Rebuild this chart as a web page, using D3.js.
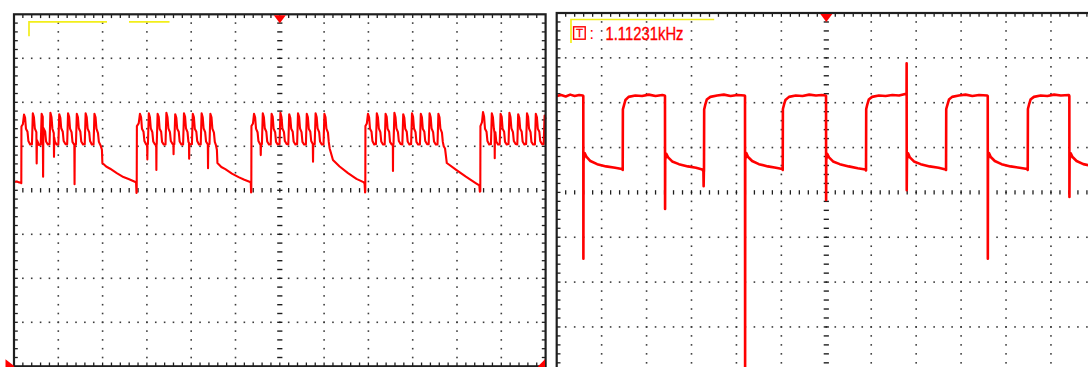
<!DOCTYPE html>
<html><head><meta charset="utf-8">
<script src="https://cdn.jsdelivr.net/npm/d3@7"></script>
<style>html,body{margin:0;padding:0;background:#fff;overflow:hidden}svg{display:block}</style>
</head><body>
<svg id="c" width="1088" height="367"></svg>
<script>
// Time in divisions (0..12), voltage in divisions (-4..4)
const leftTrace = [
[0.00,0.19],[0.06,0.20],[0.12,0.18],[0.16,0.17],
[0.165,0.16],[0.168,1.45],[0.20,1.50],[0.226,1.72],[0.25,1.65],[0.27,1.40],[0.305,1.33],[0.325,1.12],[0.365,1.04],
[0.405,1.05],[0.425,1.75],[0.45,1.66],[0.47,1.41],[0.505,1.32],[0.512,0.61],[0.518,1.14],[0.565,1.03],
[0.604,1.04],[0.624,1.74],[0.649,1.67],[0.657,0.31],[0.663,1.42],[0.704,1.33],[0.724,1.11],[0.764,1.04],
[0.802,1.05],[0.822,1.76],[0.847,1.66],[0.867,1.40],[0.898,1.30],[0.903,0.76],[0.908,1.20],[0.922,1.11],[0.962,1.04],
[1.001,1.04],[1.021,1.73],[1.046,1.65],[1.066,1.41],[1.101,1.33],[1.121,1.12],[1.161,1.05],
[1.200,1.05],[1.220,1.75],[1.245,1.67],[1.265,1.40],[1.300,1.32],[1.320,1.10],[1.362,1.03],[1.367,0.14],[1.372,1.04],
[1.398,1.04],[1.418,1.74],[1.443,1.66],[1.463,1.41],[1.498,1.33],[1.518,1.11],[1.558,1.04],
[1.597,1.05],[1.617,1.75],[1.642,1.66],[1.662,1.40],[1.697,1.32],[1.717,1.12],[1.757,1.04],
[1.796,1.04],[1.816,1.74],[1.841,1.66],[1.861,1.40],[1.896,1.30],[1.916,1.10],[1.955,1.02],[1.985,0.92],
[1.995,0.62],[2.08,0.54],[2.17,0.49],[2.32,0.39],[2.47,0.30],[2.60,0.25],[2.74,0.19],[2.755,0.18],[2.765,-0.06],
[2.770,-0.04],[2.774,1.46],[2.815,1.52],[2.844,1.74],[2.869,1.66],[2.889,1.40],[2.924,1.33],[2.944,1.12],[2.984,1.04],
[3.005,1.04],[3.010,0.70],[3.015,1.05],
[3.023,1.05],[3.043,1.75],[3.068,1.66],[3.088,1.41],[3.123,1.32],[3.143,1.11],[3.183,1.04],
[3.210,1.04],[3.214,0.46],[3.218,1.04],
[3.222,1.05],[3.242,1.74],[3.267,1.67],[3.287,1.40],[3.322,1.33],[3.342,1.10],[3.382,1.04],
[3.420,1.04],[3.440,1.76],[3.465,1.66],[3.485,1.41],[3.520,1.32],[3.540,1.12],[3.580,1.05],
[3.598,1.05],[3.602,0.82],[3.606,1.05],
[3.619,1.05],[3.639,1.73],[3.664,1.65],[3.684,1.40],[3.719,1.33],[3.739,1.11],[3.779,1.04],
[3.817,1.04],[3.837,1.75],[3.862,1.67],[3.882,1.41],[3.917,1.32],[3.937,1.10],[3.950,1.08],[3.954,0.72],[3.958,1.06],[3.977,1.04],
[4.016,1.05],[4.036,1.74],[4.061,1.66],[4.081,1.40],[4.116,1.33],[4.136,1.12],[4.176,1.04],
[4.215,1.04],[4.235,1.75],[4.260,1.66],[4.280,1.41],[4.315,1.32],[4.335,1.11],[4.375,1.04],[4.380,0.50],[4.385,1.04],
[4.413,1.05],[4.433,1.74],[4.458,1.66],[4.478,1.40],[4.513,1.31],[4.533,1.10],[4.560,1.02],[4.580,0.92],
[4.592,0.62],[4.68,0.53],[4.77,0.48],[4.92,0.38],[5.07,0.30],[5.20,0.24],[5.33,0.19],[5.345,0.17],[5.352,-0.05],
[5.357,-0.03],[5.360,1.46],[5.395,1.52],[5.418,1.74],[5.443,1.66],[5.463,1.40],[5.498,1.32],[5.518,1.12],[5.558,1.04],
[5.565,1.04],[5.570,0.80],[5.575,1.04],
[5.596,1.05],[5.616,1.75],[5.641,1.66],[5.661,1.41],[5.696,1.33],[5.716,1.11],[5.756,1.04],
[5.795,1.04],[5.815,1.74],[5.840,1.67],[5.860,1.40],[5.895,1.32],[5.915,1.10],[5.955,1.04],
[5.994,1.05],[6.014,1.76],[6.039,1.66],[6.059,1.41],[6.094,1.32],[6.114,1.12],[6.154,1.05],
[6.192,1.04],[6.212,1.73],[6.237,1.65],[6.257,1.40],[6.292,1.33],[6.312,1.11],[6.352,1.04],
[6.391,1.05],[6.411,1.75],[6.436,1.67],[6.456,1.41],[6.491,1.32],[6.511,1.10],[6.551,1.04],
[6.589,1.04],[6.609,1.74],[6.634,1.66],[6.654,1.40],[6.689,1.33],[6.709,1.12],[6.745,1.05],[6.750,0.65],[6.755,1.05],
[6.788,1.05],[6.808,1.75],[6.833,1.66],[6.853,1.41],[6.888,1.32],[6.908,1.11],[6.948,1.04],
[6.987,1.04],[7.007,1.74],[7.032,1.66],[7.052,1.40],[7.087,1.31],[7.105,1.10],[7.126,0.95],
[7.200,0.69],[7.35,0.54],[7.54,0.39],[7.73,0.26],[7.90,0.18],[7.915,0.14],[7.925,-0.05],
[7.930,-0.03],[7.933,1.46],[7.965,1.52],[7.991,1.74],[8.016,1.66],[8.036,1.40],[8.071,1.33],[8.091,1.12],[8.131,1.04],
[8.170,1.05],[8.190,1.75],[8.215,1.66],[8.235,1.41],[8.270,1.32],[8.290,1.11],[8.330,1.04],
[8.368,1.04],[8.388,1.74],[8.413,1.67],[8.433,1.40],[8.468,1.33],[8.488,1.10],[8.528,1.04],
[8.552,1.05],[8.555,0.44],[8.558,1.05],
[8.567,1.05],[8.587,1.76],[8.612,1.66],[8.632,1.41],[8.667,1.32],[8.687,1.12],[8.727,1.05],
[8.766,1.04],[8.786,1.73],[8.811,1.65],[8.831,1.40],[8.866,1.33],[8.886,1.11],[8.926,1.04],
[8.964,1.05],[8.984,1.75],[9.009,1.67],[9.029,1.41],[9.064,1.32],[9.084,1.10],[9.124,1.04],
[9.163,1.04],[9.183,1.74],[9.208,1.66],[9.228,1.40],[9.263,1.33],[9.283,1.12],[9.323,1.05],
[9.361,1.05],[9.381,1.75],[9.406,1.66],[9.426,1.41],[9.461,1.32],[9.481,1.11],[9.521,1.04],
[9.560,1.04],[9.580,1.74],[9.605,1.66],[9.625,1.40],[9.660,1.31],[9.680,1.10],[9.700,1.00],[9.730,0.95],
[9.770,0.62],[9.99,0.46],[10.20,0.31],[10.43,0.16],[10.505,0.11],[10.515,-0.03],
[10.526,-0.02],[10.529,1.46],[10.565,1.55],[10.587,1.78],[10.612,1.67],[10.632,1.40],[10.667,1.33],[10.687,1.12],[10.727,1.04],
[10.766,1.05],[10.786,1.75],[10.811,1.66],[10.831,1.41],[10.848,1.30],[10.852,0.73],[10.856,1.28],[10.866,1.32],[10.886,1.11],[10.926,1.04],
[10.964,1.04],[10.984,1.74],[11.009,1.67],[11.029,1.40],[11.064,1.33],[11.084,1.10],[11.124,1.04],
[11.163,1.05],[11.183,1.76],[11.208,1.66],[11.228,1.41],[11.263,1.32],[11.283,1.12],[11.323,1.05],
[11.361,1.04],[11.381,1.73],[11.406,1.65],[11.426,1.40],[11.461,1.33],[11.481,1.11],[11.521,1.04],
[11.560,1.05],[11.580,1.75],[11.605,1.67],[11.625,1.41],[11.660,1.32],[11.680,1.10],[11.720,1.04],
[11.759,1.04],[11.779,1.74],[11.804,1.66],[11.824,1.40],[11.859,1.33],[11.879,1.12],[11.919,1.05],
[11.957,1.05],[11.977,1.70],[12.0,1.62]
];

const rightTrace = [
[0.00,2.15],[0.10,2.17],[0.20,2.14],[0.30,2.18],[0.40,2.15],[0.50,2.17],[0.58,2.16],
[0.592,2.15],[0.594,-1.48],[0.597,0.70],[0.62,0.88],[0.66,0.80],[0.75,0.70],[0.90,0.63],[1.10,0.58],[1.30,0.55],[1.45,0.52],
[1.469,0.50],[1.473,1.85],[1.50,1.95],[1.53,2.06],[1.60,2.13],[1.75,2.16],[1.90,2.15],[2.05,2.18],[2.20,2.15],[2.35,2.17],[2.40,2.16],
[2.410,2.15],[2.412,-0.37],[2.415,0.72],[2.44,0.86],[2.48,0.78],[2.57,0.69],[2.72,0.63],[2.92,0.58],[3.10,0.55],[3.24,0.51],[3.265,0.47],[3.270,0.14],[3.275,0.45],
[3.278,0.48],[3.282,1.85],[3.31,1.97],[3.34,2.07],[3.42,2.13],[3.57,2.16],[3.72,2.18],[3.87,2.15],[4.02,2.17],[4.18,2.16],
[4.191,2.15],[4.193,-4.0],[4.196,0.72],[4.22,0.88],[4.26,0.79],[4.35,0.70],[4.50,0.63],[4.70,0.58],[4.88,0.55],[5.02,0.52],
[5.030,0.50],[5.034,1.86],[5.06,1.96],[5.09,2.06],[5.17,2.13],[5.32,2.16],[5.47,2.15],[5.62,2.18],[5.77,2.16],[5.90,2.17],[5.985,2.16],
[5.994,2.15],[5.996,-0.17],[5.999,0.72],[6.02,0.86],[6.06,0.78],[6.15,0.69],[6.30,0.63],[6.50,0.58],[6.70,0.54],[6.87,0.51],
[6.884,0.49],[6.888,1.86],[6.915,1.97],[6.945,2.07],[7.02,2.13],[7.17,2.16],[7.32,2.15],[7.47,2.17],[7.62,2.16],[7.78,2.20],
[7.786,2.17],[7.788,2.88],[7.790,0.05],[7.795,0.72],[7.82,0.87],[7.86,0.78],[7.95,0.69],[8.10,0.63],[8.30,0.58],[8.50,0.55],[8.655,0.51],
[8.665,0.50],[8.669,1.86],[8.70,1.97],[8.73,2.07],[8.80,2.13],[8.95,2.16],[9.10,2.18],[9.25,2.15],[9.40,2.17],[9.58,2.16],
[9.593,2.15],[9.595,-1.48],[9.598,0.72],[9.62,0.88],[9.66,0.79],[9.75,0.70],[9.90,0.63],[10.10,0.58],[10.30,0.55],[10.47,0.52],
[10.483,0.50],[10.487,1.86],[10.515,1.97],[10.545,2.07],[10.62,2.13],[10.77,2.16],[10.92,2.15],[11.07,2.18],[11.22,2.16],[11.40,2.17],
[11.409,2.15],[11.411,-0.10],[11.414,0.72],[11.44,0.87],[11.48,0.79],[11.57,0.70],[11.72,0.63],[11.92,0.59],[12.0,0.58]
];

const freqLabel = "1.11231kHz";
const triggerLabel = "T";

const svg = d3.select("#c");
const RED = "#ff0000", YEL = "#f2ee1a", INK = "#1e1e1e", DOT = "#3c3c3c";

const panels = [
  {x: d3.scaleLinear().domain([0,12]).range([14, 545.6]),
   y: d3.scaleLinear().domain([-4,4]).range([366.3, 14.3]), data: leftTrace, sw: 2.1},
  {x: d3.scaleLinear().domain([0,12]).range([556.7, 1095.9]),
   y: d3.scaleLinear().domain([-4,4]).range([371.8, 13.0]), data: rightTrace, sw: 2.6}
];

panels.forEach((p, idx) => {
  const g = svg.append("g");
  const x = p.x, y = p.y;
  const minorT = d3.range(1, 60).map(k => k * 0.2);
  const minorV = d3.range(1, 40).map(k => -4 + k * 0.2);
  // dotted grid
  const dots = [];
  [1,2,3,4,5,7,8,9,10,11].forEach(i => minorV.forEach(v => dots.push([i, v])));
  [-3,-2,-1,1,2,3].forEach(j => minorT.forEach(t => dots.push([t, j])));
  g.append("g").selectAll("rect").data(dots).join("rect")
    .attr("x", d => x(d[0]) - 0.8).attr("y", d => y(d[1]) - 0.8)
    .attr("width", 1.6).attr("height", 1.6).attr("fill", DOT);
  // center axes
  g.append("g").selectAll("line").data(minorT).join("line")
    .attr("x1", t => x(t)).attr("x2", t => x(t))
    .attr("y1", y(0) - 2.2).attr("y2", y(0) + 2.2)
    .attr("stroke", INK).attr("stroke-width", 1.3);
  g.append("g").selectAll("line").data(minorV).join("line")
    .attr("x1", x(6) - 2.6).attr("x2", x(6) + 2.6)
    .attr("y1", v => y(v)).attr("y2", v => y(v))
    .attr("stroke", INK).attr("stroke-width", 1.4);
  // border ticks
  const bt = g.append("g").attr("stroke", INK).attr("stroke-width", 1.3);
  minorT.forEach(t => {
    bt.append("line").attr("x1", x(t)).attr("x2", x(t)).attr("y1", y(4)).attr("y2", y(4) + 3.8);
    bt.append("line").attr("x1", x(t)).attr("x2", x(t)).attr("y1", y(-4)).attr("y2", y(-4) - 3.8);
  });
  minorV.forEach(v => {
    bt.append("line").attr("x1", x(0)).attr("x2", x(0) + 3.8).attr("y1", y(v)).attr("y2", y(v));
    bt.append("line").attr("x1", x(12)).attr("x2", x(12) - 3.8).attr("y1", y(v)).attr("y2", y(v));
  });
  // trace
  const line = d3.line().x(d => x(d[0])).y(d => y(d[1]));
  g.append("path").datum(p.data).attr("d", line)
    .attr("fill", "none").attr("stroke", RED).attr("stroke-width", p.sw)
    .attr("stroke-linejoin", "round");
  // border
  g.append("rect").attr("x", x(0)).attr("y", y(4))
    .attr("width", x(12) - x(0)).attr("height", y(-4) - y(4))
    .attr("fill", "none").attr("stroke", INK).attr("stroke-width", 2.2);
  // trigger marker
  const cx = x(6), ty = y(4);
  g.append("path").attr("d", `M${cx-6},${ty+1} L${cx+6},${ty+1} L${cx},${ty+9} Z`).attr("fill", RED);
});

// Left panel decorations
const L = panels[0];
svg.append("path").attr("d", `M${L.x(0)+15},${L.y(4)+22} V${L.y(4)+7.5} H${L.x(0)+93}`)
  .attr("fill","none").attr("stroke", YEL).attr("stroke-width", 1.7);
svg.append("line").attr("x1", L.x(0)+115).attr("x2", L.x(0)+155.5)
  .attr("y1", L.y(4)+7.5).attr("y2", L.y(4)+7.5).attr("stroke", YEL).attr("stroke-width", 1.7);
svg.append("path").attr("d", `M5.5,${L.y(-4)-7} L14.5,${L.y(-4)} L5.5,${L.y(-4)+7} Z`).attr("fill", RED);
svg.append("path").attr("d", `M545,${L.y(-4)-7} L538,${L.y(-4)} L545,${L.y(-4)+7} Z`).attr("fill", RED);

// Right panel decorations
const R = panels[1];
svg.append("path").attr("d", `M${R.x(0)+14.3},${R.y(4)+30} V${R.y(4)+6.5} H${R.x(0)+157.5}`)
  .attr("fill","none").attr("stroke", YEL).attr("stroke-width", 1.7);
svg.append("rect").attr("x", 573.6).attr("y", 26.8).attr("width", 11.6).attr("height", 12.4)
  .attr("fill","none").attr("stroke", RED).attr("stroke-width", 1.4);
svg.append("text").attr("x", 579.4).attr("y", 37).attr("text-anchor","middle")
  .attr("font-family","Liberation Sans, Arial, sans-serif").attr("font-size", 11.5)
  .attr("fill", RED).attr("stroke", RED).attr("stroke-width", 0.3).text(triggerLabel);
svg.append("text").attr("x", 589.5).attr("y", 39)
  .attr("font-family","Liberation Sans, Arial, sans-serif").attr("font-size", 16)
  .attr("fill", RED).text(":");
svg.append("text").attr("x", 605.5).attr("y", 39.5)
  .attr("font-family","Liberation Sans Narrow, Liberation Sans, Arial, sans-serif").attr("font-size", 17.5)
  .attr("textLength", 78).attr("lengthAdjust","spacingAndGlyphs")
  .attr("fill", RED).attr("stroke", RED).attr("stroke-width", 0.35).text(freqLabel);
</script>
</body></html>
